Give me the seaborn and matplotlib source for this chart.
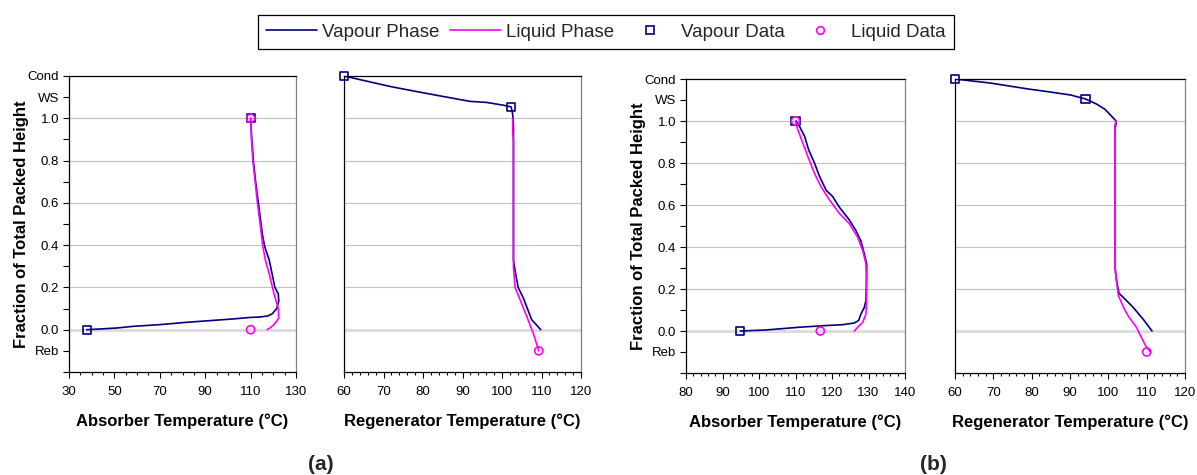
import numpy as np
import matplotlib
matplotlib.use("Agg")
import matplotlib.pyplot as plt
from matplotlib.lines import Line2D
from matplotlib.ticker import MultipleLocator
import seaborn as sns

sns.set_theme(style="white")
plt.rcParams["font.family"] = ["Liberation Sans", "DejaVu Sans"]

VAPOUR = "#000080"
LIQUID = "#ff00ff"

# ---------------- Case (a) ----------------
# Absorber profiles
abs_a_vap_T = [37.8, 51, 58.3, 70, 81.8, 102.4, 109.7, 114, 117.5, 119.5, 121.5, 122.4, 122.2,
               120.7, 118.2, 116.3, 115.2, 113.4, 112.2, 111.2, 110.5, 110]
abs_a_vap_h = [0.0, 0.008, 0.016, 0.024, 0.035, 0.051, 0.058, 0.06, 0.065, 0.075, 0.1, 0.135, 0.17,
               0.2, 0.33, 0.39, 0.45, 0.6, 0.7, 0.8, 0.9, 1.0]
abs_a_liq_T = [110, 110.4, 111, 112, 113, 114.2, 115.3, 116.5, 118.3, 120.3, 121.4, 122.2, 122.4,
               121.5, 120.3, 119.0, 117.3]
abs_a_liq_h = [1.0, 0.9, 0.8, 0.7, 0.6, 0.5, 0.4, 0.33, 0.26, 0.17, 0.13, 0.1, 0.056,
               0.04, 0.025, 0.012, 0.0]
abs_a_vdat_T = [37.8, 110]
abs_a_vdat_h = [0.0, 1.0]
abs_a_ldat_T = [110, 110]
abs_a_ldat_h = [1.0, 0.0]

# Regenerator profiles
reg_a_vap_T = [60, 71.8, 80.2, 86.9, 91.9, 96.1, 100.3, 102.3, 102.7, 102.9, 102.9, 103.3,
               104.1, 105.4, 107.5, 109.8]
reg_a_vap_h = [1.2, 1.15, 1.12, 1.097, 1.08, 1.075, 1.062, 1.054, 1.02, 0.96, 0.33, 0.28,
               0.2, 0.15, 0.048, 0.0]
reg_a_liq_T = [102.7, 102.7, 102.9, 102.9, 103.3, 104.4, 106.4, 107.9, 109.3]
reg_a_liq_h = [1.0, 0.93, 0.9, 0.295, 0.2, 0.15, 0.056, -0.016, -0.1]
reg_a_vdat_T = [60, 102.3]
reg_a_vdat_h = [1.2, 1.054]
reg_a_ldat_T = [109.3]
reg_a_ldat_h = [-0.1]

# ---------------- Case (b) ----------------
abs_b_vap_T = [94.9, 102, 111.1, 118.4, 122.9, 126.1, 127.3, 127.9, 128.8, 129.3, 129.5, 129.5,
               128.8, 127.9, 126.5, 124.7, 122, 120.2, 118.4, 116.5, 115.2, 113.6, 112.5, 111.1, 110.2]
abs_b_vap_h = [0.0, 0.005, 0.018, 0.026, 0.03, 0.038, 0.05, 0.08, 0.11, 0.145, 0.257, 0.32,
               0.37, 0.43, 0.48, 0.53, 0.59, 0.64, 0.67, 0.74, 0.8, 0.863, 0.927, 0.974, 1.0]
abs_b_liq_T = [110, 110.6, 112, 113.4, 115.2, 117, 119.3, 122, 124.7, 127, 128.4, 129.3, 129.5,
               129.3, 128.4, 127.5, 126.1]
abs_b_liq_h = [1.0, 0.96, 0.895, 0.83, 0.75, 0.687, 0.624, 0.56, 0.512, 0.448, 0.384, 0.32, 0.177,
               0.081, 0.041, 0.026, 0.0]
abs_b_vdat_T = [94.9, 110]
abs_b_vdat_h = [0.0, 1.0]
abs_b_ldat_T = [110, 116.8]
abs_b_ldat_h = [1.0, 0.0]

reg_b_vap_T = [60, 69.5, 78.9, 84.1, 90.1, 94.05, 97, 99.1, 100.8, 102, 102, 101.7, 101.7,
               102.1, 102.8, 103.9, 106.4, 109, 111.4]
reg_b_vap_h = [1.2, 1.18, 1.153, 1.14, 1.124, 1.105, 1.08, 1.056, 1.024, 1.0, 0.984, 0.96, 0.31,
               0.243, 0.179, 0.16, 0.114, 0.058, 0.0]
reg_b_liq_T = [102, 101.7, 101.7, 102, 102.6, 103.9, 105.1, 107.3, 108.6, 109.9, 111]
reg_b_liq_h = [1.0, 0.976, 0.316, 0.26, 0.17, 0.114, 0.074, 0.018, -0.03, -0.076, -0.1]
reg_b_vdat_T = [60, 94.05]
reg_b_vdat_h = [1.2, 1.105]
reg_b_ldat_T = [110]
reg_b_ldat_h = [-0.1]

# Temperature axis ticks
abs_a_xticks = [30, 50, 70, 90, 110, 130]
abs_b_xticks = [80, 90, 100, 110, 120, 130, 140]
reg_xticks = [60, 70, 80, 90, 100, 110, 120]

# Height axis ticks
grid_ticks = [0.0, 0.2, 0.4, 0.6, 0.8, 1.0]
grid_labels = ["0.0", "0.2", "0.4", "0.6", "0.8", "1.0"]
extra_ticks = [-0.2, -0.1, 0.1, 0.3, 0.5, 0.7, 0.9, 1.1, 1.2]
extra_labels = ["", "Reb", "", "", "", "", "", "WS", "Cond"]

legend_labels = ["Vapour Phase", "Liquid Phase", "Vapour Data", "Liquid Data"]

W, H = 1197, 475
fig = plt.figure(figsize=(W / 100, H / 100), dpi=100)


def px_axes(left, right, top, bottom):
    return fig.add_axes([left / W, 1 - bottom / H, (right - left) / W, (bottom - top) / H])


def panel(ax, vT, vh, lT, lh, vdT, vdh, ldT, ldh, xticks, minor, xlabel, show_y):
    sns.lineplot(x=vT, y=vh, sort=False, estimator=None, color=VAPOUR, lw=1.2, ax=ax, zorder=2)
    sns.lineplot(x=lT, y=lh, sort=False, estimator=None, color=LIQUID, lw=1.2, ax=ax, zorder=2)
    sns.scatterplot(x=vdT, y=vdh, marker="s", s=34, color=VAPOUR, facecolors="none",
                    edgecolor=VAPOUR, linewidth=1.2, ax=ax, zorder=3, clip_on=False)
    sns.scatterplot(x=ldT, y=ldh, marker="o", s=34, color=LIQUID, facecolors="none",
                    edgecolor=LIQUID, linewidth=1.2, ax=ax, zorder=4, clip_on=False)
    ax.set_xlim(xticks[0], xticks[-1])
    ax.set_ylim(-0.2, 1.2)
    ax.set_xticks(xticks, [str(t) for t in xticks])
    ax.xaxis.set_minor_locator(MultipleLocator(minor))
    ax.set_yticks(grid_ticks, grid_labels if show_y else [])
    ax.set_yticks(extra_ticks, extra_labels if show_y else [], minor=True)
    ax.set_axisbelow(True)
    ax.grid(False)
    ax.yaxis.grid(True, which="major", color="#c0c0c0", lw=0.8)
    zero = ax.get_ygridlines()[0]
    zero.set_color("#dcdcdc")
    zero.set_linewidth(2.2)
    ax.tick_params(axis="x", which="both", bottom=True, direction="out", colors="black",
                   labelsize=9.5, pad=6, width=0.8)
    ax.tick_params(axis="x", which="major", length=4)
    ax.tick_params(axis="x", which="minor", length=2.5)
    if show_y:
        ax.tick_params(axis="y", which="both", left=True, direction="out", length=4,
                       width=0.8, labelsize=9.5, pad=3, colors="black")
        ax.set_ylabel("Fraction of Total Packed Height", fontsize=12, fontweight="bold",
                      labelpad=-1, color="black")
    else:
        ax.tick_params(axis="y", which="both", left=False, labelleft=False)
        ax.set_ylabel("")
    ax.set_xlabel(xlabel, fontsize=12, fontweight="bold", labelpad=11, color="black")
    for side in ["left", "bottom", "top"]:
        ax.spines[side].set_color("black")
        ax.spines[side].set_linewidth(0.9)
    ax.spines["right"].set_color("#808080")
    ax.spines["right"].set_linewidth(0.9)
    ax.set_facecolor("white")


ax1 = px_axes(69, 296, 76, 372)
ax2 = px_axes(344, 581, 76, 372)
ax3 = px_axes(686, 905, 79, 373)
ax4 = px_axes(955, 1185, 79, 373)

panel(ax1, abs_a_vap_T, abs_a_vap_h, abs_a_liq_T, abs_a_liq_h, abs_a_vdat_T, abs_a_vdat_h,
      abs_a_ldat_T, abs_a_ldat_h, abs_a_xticks, 5, "Absorber Temperature (°C)", True)
panel(ax2, reg_a_vap_T, reg_a_vap_h, reg_a_liq_T, reg_a_liq_h, reg_a_vdat_T, reg_a_vdat_h,
      reg_a_ldat_T, reg_a_ldat_h, reg_xticks, 2, "Regenerator Temperature (°C)", False)
panel(ax3, abs_b_vap_T, abs_b_vap_h, abs_b_liq_T, abs_b_liq_h, abs_b_vdat_T, abs_b_vdat_h,
      abs_b_ldat_T, abs_b_ldat_h, abs_b_xticks, 2, "Absorber Temperature (°C)", True)
panel(ax4, reg_b_vap_T, reg_b_vap_h, reg_b_liq_T, reg_b_liq_h, reg_b_vdat_T, reg_b_vdat_h,
      reg_b_ldat_T, reg_b_ldat_h, reg_xticks, 2, "Regenerator Temperature (°C)", False)

fig.text(321 / W, 1 - 465 / H, "(a)", fontsize=15, fontweight="bold", ha="center", va="center")
fig.text(933 / W, 1 - 465 / H, "(b)", fontsize=15, fontweight="bold", ha="center", va="center")

handles = [
    Line2D([], [], color=VAPOUR, lw=1.2),
    Line2D([], [], color=LIQUID, lw=1.2),
    Line2D([], [], color=VAPOUR, marker="s", ls="none", markersize=5.5, mfc="none", mew=1.2),
    Line2D([], [], color=LIQUID, marker="o", ls="none", markersize=5.5, mfc="none", mew=1.2),
]
leg = fig.legend(handles, legend_labels, loc="center", bbox_to_anchor=(606 / W, 1 - 32 / H),
                 ncol=4, fontsize=13.5, frameon=True, fancybox=False, shadow=False,
                 handlelength=2.7, handletextpad=0.3, columnspacing=0.55, borderpad=0.45,
                 borderaxespad=0)
leg.get_frame().set_edgecolor("black")
leg.get_frame().set_linewidth(0.9)
leg.get_frame().set_alpha(1)

fig.savefig("out.png", dpi=100, facecolor="white")
